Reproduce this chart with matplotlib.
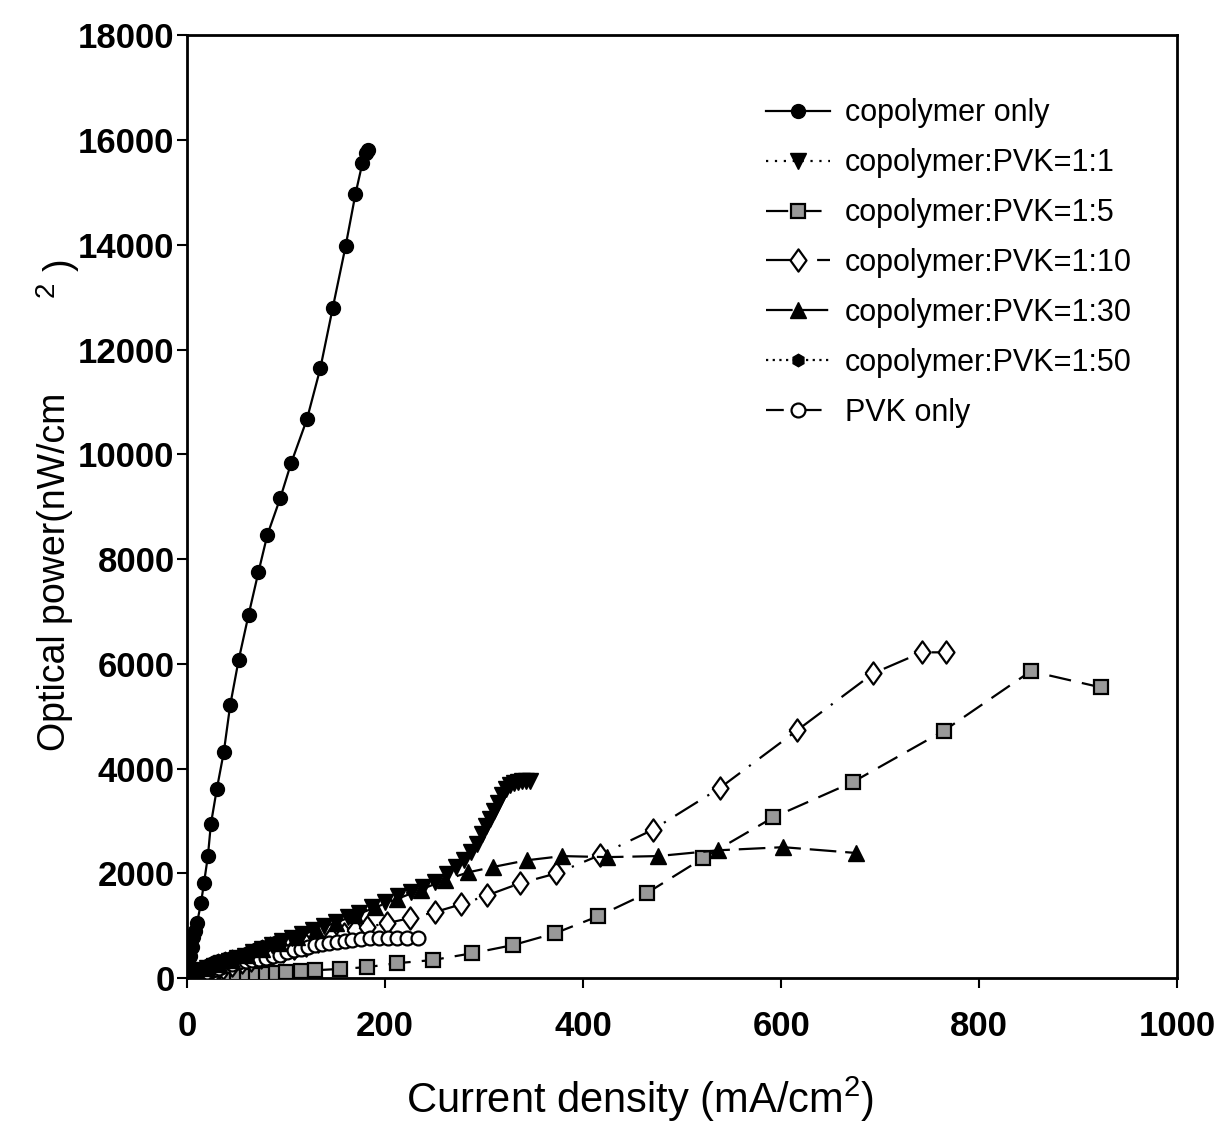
import matplotlib
matplotlib.use("Agg")
import matplotlib.pyplot as plt

plt.rcParams['font.family'] = ['Liberation Sans', 'DejaVu Sans']
plt.rcParams['mathtext.fontset'] = 'custom'
plt.rcParams['mathtext.rm'] = 'Liberation Sans'

# copolymer only
cop_x = [1, 2, 3, 4.5, 6, 8, 10, 14, 17, 21, 24, 30, 37, 43.5, 52, 62, 72, 81, 94, 105, 121, 134.5, 147, 160, 170, 177, 181, 183]
cop_y = [100, 250, 420, 600, 780, 900, 1050, 1430, 1810, 2330, 2940, 3610, 4310, 5210, 6070, 6930, 7750, 8460, 9160, 9830, 10670, 11640, 12790, 13970, 14970, 15560, 15750, 15810]

# copolymer:PVK=1:1
p11_x = [3, 8, 14, 20, 27, 34, 42, 50, 58, 67, 76, 86, 96, 106, 116, 127, 138, 150, 162, 174, 187, 200, 213, 226, 238, 250, 262, 272, 280, 287, 293, 298, 302, 306, 310, 314, 318, 322, 326, 330, 334, 338, 342, 346]
p11_y = [60, 110, 150, 190, 230, 280, 330, 380, 430, 490, 560, 630, 700, 770, 840, 910, 990, 1080, 1160, 1250, 1350, 1460, 1560, 1650, 1740, 1830, 1980, 2130, 2260, 2400, 2570, 2760, 2900, 3030, 3200, 3350, 3500, 3610, 3680, 3720, 3740, 3760, 3770, 3770]

# copolymer:PVK=1:5
p15_x = [2, 8, 15, 22, 30, 40, 50, 60, 70, 80, 90, 100, 115, 129, 154, 182, 212, 248, 288, 329, 372, 415, 464, 521, 592, 672, 764, 852, 923]
p15_y = [5, 10, 15, 20, 25, 30, 40, 50, 60, 80, 100, 110, 130, 150, 175, 210, 285, 345, 475, 630, 860, 1180, 1620, 2290, 3070, 3740, 4720, 5860, 5550]

# copolymer:PVK=1:10
p110_x = [5, 12, 20, 28, 36, 45, 55, 65, 75, 86, 97, 108, 120, 132, 145, 158, 170, 182, 202, 225, 250, 277, 303, 336, 373, 417, 470, 538, 616, 693, 742, 766]
p110_y = [40, 80, 120, 160, 200, 250, 300, 350, 400, 460, 520, 580, 640, 700, 770, 850, 910, 975, 1050, 1145, 1260, 1410, 1580, 1810, 2000, 2350, 2830, 3630, 4730, 5820, 6220, 6220]

# copolymer:PVK=1:30
p130_x = [3, 10, 20, 32, 45, 60, 76, 93, 111, 130, 150, 170, 190, 212, 236, 260, 284, 308.5, 343, 379, 424, 475.5, 536, 602, 675]
p130_y = [60, 120, 190, 270, 350, 450, 560, 670, 790, 920, 1060, 1200, 1350, 1510, 1690, 1870, 2020, 2120, 2250, 2330, 2310, 2330, 2440, 2500, 2390]

# copolymer:PVK=1:50
p150_x = [2, 5, 9, 14, 19, 25, 31, 38, 45, 52, 60, 68, 76, 84, 90]
p150_y = [40, 90, 140, 190, 250, 305, 350, 390, 420, 450, 500, 560, 620, 670, 700]

# PVK only
pvk_x = [2, 6, 10, 15, 20, 26, 32, 38, 45, 52, 59, 66, 73, 80, 87, 94, 101, 108, 115, 122, 129, 136, 143, 151, 159, 167, 176, 185, 194, 203, 212, 222, 233]
pvk_y = [10, 30, 50, 80, 110, 150, 190, 230, 270, 300, 330, 350, 370, 390, 420, 450, 490, 530, 560, 590, 630, 660, 680, 690, 710, 730, 750, 760, 765, 765, 765, 765, 760]

# slightly narrow diamond, like the scanned one
diamond = [(-0.72, 0), (0, 1), (0.72, 0), (0, -1), (-0.72, 0)]

fig = plt.figure(figsize=(12.15, 11.4), dpi=100)
ax = fig.add_axes([0.154, 0.142, 0.815, 0.827])

lw = 1.6
ax.plot(cop_x, cop_y, color='black', lw=lw, ls='-', marker='o', ms=10,
        mfc='black', mec='black', label='copolymer only', zorder=5)
ax.plot(p11_x, p11_y, color='black', lw=lw, ls=(0, (1, 3)), marker='v', ms=11,
        mfc='black', mec='black', label='copolymer:PVK=1:1', zorder=4)
ax.plot(p15_x, p15_y, color='black', lw=lw, ls=(0, (10, 5)), marker='s', ms=9.5,
        mfc='0.6', mec='black', mew=1.6, label='copolymer:PVK=1:5', zorder=3)
ax.plot(p110_x, p110_y, color='black', lw=lw, ls=(0, (12, 5, 1, 5)), marker=diamond, ms=16,
        mfc='white', mec='black', mew=1.6, label='copolymer:PVK=1:10', zorder=3)
ax.plot(p130_x, p130_y, color='black', lw=lw, ls=(0, (12, 4)), marker='^', ms=11,
        mfc='black', mec='black', label='copolymer:PVK=1:30', zorder=4)
ax.plot(p150_x, p150_y, color='black', lw=lw, ls=(0, (1, 2)), marker='h', ms=9,
        mfc='black', mec='black', label='copolymer:PVK=1:50', zorder=4)
ax.plot(pvk_x, pvk_y, color='black', lw=lw, ls=(0, (8, 4, 1, 4)), marker='o', ms=10,
        mfc='white', mec='black', mew=1.6, label='PVK only', zorder=3)

ax.set_xlim(0, 1000)
ax.set_ylim(0, 18000)
ax.set_xticks([0, 200, 400, 600, 800, 1000])
ax.set_yticks(range(0, 18001, 2000))
ax.tick_params(axis='both', direction='out', length=7, width=1.5, labelsize=25,
               top=False, right=False)
ax.tick_params(axis='x', pad=16)
ax.tick_params(axis='y', pad=2)
for lab in ax.get_xticklabels() + ax.get_yticklabels():
    lab.set_fontweight('bold')
for sp in ax.spines.values():
    sp.set_linewidth(2)

# axis titles
fig.text(0.527, 0.036, 'Current density (mA/cm$^2$)', fontsize=30,
         ha='center', va='center')
fig.text(0.045, 0.498, 'Optical power(nW/cm', rotation=90, fontsize=27,
         ha='center', va='center')
fig.text(0.038, 0.746, '2', rotation=90, fontsize=20, ha='center', va='center')
fig.text(0.050, 0.768, ')', rotation=90, fontsize=27, ha='center', va='center')

leg = ax.legend(loc='upper left', bbox_to_anchor=(0.572, 0.946), frameon=False,
                fontsize=22, handlelength=2.1, handletextpad=0.5, labelspacing=0.65,
                borderaxespad=0)

fig.savefig('out.png', dpi=100)
